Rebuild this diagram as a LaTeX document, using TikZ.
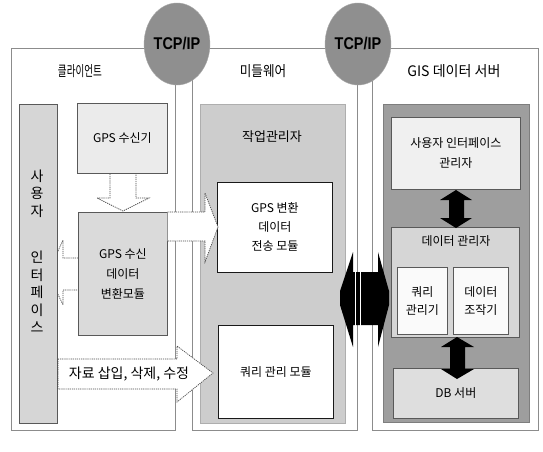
\documentclass[tikz,border=0pt]{standalone}
\usepackage{fontspec}
\setmainfont{Noto Sans CJK KR}
\newfontfamily\tcpfont{Liberation Sans}
\usetikzlibrary{shapes.geometric}
\definecolor{panelc}{HTML}{8C8C8C}
\definecolor{uic}{HTML}{D6D6D6}
\definecolor{rxc}{HTML}{EBEBEB}
\definecolor{cvc}{HTML}{DADADA}
\definecolor{jobc}{HTML}{CDCDCD}
\definecolor{gisdark}{HTML}{9E9E9E}
\definecolor{uimgr}{HTML}{F0F0F0}
\definecolor{dmgr}{HTML}{D6D6D6}
\definecolor{smallc}{HTML}{FAFAFA}
\definecolor{dbc}{HTML}{DEDEDE}
\definecolor{tcpc}{HTML}{8F8F8F}
\begin{document}
\begin{tikzpicture}[x=1pt,y=-1pt,
  panel/.style={draw=panelc,line width=0.6pt,anchor=north west,inner sep=0pt},
  box/.style={draw=black!65,line width=0.7pt,anchor=north west,inner sep=0pt,align=center,
    font=\fontsize{12}{19}\selectfont},
  wbox/.style={box,draw=black!90,line width=0.9pt,fill=white},
  ttl/.style={font=\fontsize{14.5}{16}\selectfont,inner sep=0pt},
  txt/.style={font=\fontsize{12}{19}\selectfont,inner sep=0pt,align=center},
  warrow/.style={fill=white,draw=black!70,line width=0.7pt,dash pattern=on 1.2pt off 0.9pt},
  tcp/.style={ellipse,fill=tcpc,draw=gray!70,line width=0.4pt,inner sep=0pt,
    minimum width=52pt,minimum height=82pt,font=\tcpfont\bfseries\fontsize{17}{17}\selectfont}
]
\useasboundingbox (0,0) rectangle (543,451);
\fill[white] (0,0) rectangle (543,451);

% panels
\node[panel,minimum width=164pt,minimum height=382pt] (pclient) at (11,48) {};
\node[panel,minimum width=165pt,minimum height=382pt] (pmid) at (192,48) {};
\node[panel,minimum width=166pt,minimum height=382pt] (pgis) at (372,48) {};

% titles
\node[ttl] (tclient) at (80,71) {\scalebox{0.66}[1]{클라이언트}};
\node[ttl] (tmid) at (263,71) {\scalebox{0.87}[1]{미들웨어}};
\node[ttl] (tgis) at (454,71) {\scalebox{0.97}[1]{GIS 데이터 서버}};

% ---- client ----
\path[warrow] (78,258) -- (63,258) -- (63,240) -- (48,273) -- (63,305) -- (63,290) -- (78,290);
\node[box,fill=uic,minimum width=38pt,minimum height=319pt] (ui) at (19,104) {};
\node[txt,font=\fontsize{14}{17.5}\selectfont] (uitext) at (37,251) {사\\용\\자\\[29pt]인\\터\\페\\이\\스};
\node[box,fill=rxc,minimum width=90pt,minimum height=70pt] (gpsrx) at (77,103) {GPS 수신기};
\node[box,fill=cvc,minimum width=89pt,minimum height=123pt,font=\fontsize{12}{20}\selectfont] (conv) at (78,212) {GPS 수신\\데이터\\변환모듈};

% ---- middleware ----
\node[box,fill=jobc,draw=jobc!85!black,minimum width=145pt,minimum height=319pt] (job) at (200,104) {};
\node[txt,font=\fontsize{13}{15}\selectfont] (jobtxt) at (272,137) {작업관리자};
\node[wbox,minimum width=115pt,minimum height=90pt] (gpstx) at (217,182) {GPS 변환\\데이터\\전송 모듈};
\node[wbox,minimum width=115pt,minimum height=93pt] (qmod) at (218,325) {쿼리 관리 모듈};

% white arrows
\path[warrow] (110,174) -- (110,198) -- (97,198) -- (123,211) -- (149,198) -- (136,198) -- (136,174);
\path[warrow] (167.5,212) -- (205,212) -- (205,193) -- (218,227) -- (205,262) -- (205,241) -- (167.5,241);
\draw[warrow] (58,359) -- (177,359) -- (177,346) -- (213,373) -- (177,402) -- (177,389) -- (58,389) -- cycle;
\node[txt,font=\fontsize{14}{15}\selectfont] (ins) at (129,374) {자료 삽입, 삭제, 수정};

% ---- GIS server ----
\node[box,fill=gisdark,draw=gisdark!80!black,minimum width=146pt,minimum height=318pt] (gisbox) at (383,104) {};
\node[box,fill=uimgr,minimum width=129pt,minimum height=72pt,font=\fontsize{12}{20}\selectfont] (uimgr) at (391,117) {사용자 인터페이스\\관리자};
\node[box,fill=dmgr,minimum width=128pt,minimum height=110pt] (dmgr) at (391,227) {};
\node[txt] (dmgrtxt) at (456,241) {데이터 관리자};
\node[box,fill=smallc,minimum width=50pt,minimum height=67pt,font=\fontsize{12}{18}\selectfont] (qm) at (397,267) {쿼리\\관리기};
\node[box,fill=smallc,minimum width=55pt,minimum height=67pt,font=\fontsize{12}{18}\selectfont] (dm) at (453,267) {데이터\\조작기};
\node[box,fill=dbc,minimum width=125pt,minimum height=50pt] (db) at (393,368) {DB 서버};

% black double arrows
\fill[black] (449,200) -- (440,200) -- (456,190) -- (472,200) -- (464,200) -- (464,218) -- (472,218) -- (456,228) -- (440,218) -- (449,218) -- cycle;
\fill[black] (450,347) -- (441,347) -- (457,337) -- (474,347) -- (465,347) -- (465,369) -- (474,369) -- (457,379) -- (441,369) -- (450,369) -- cycle;
\fill[black] (353,252) -- (340,291) -- (340,305) -- (353,347) -- (353,325) -- (378,325) -- (378,347) -- (389,305) -- (389,291) -- (378,252) -- (378,272) -- (353,272) -- cycle;
\draw[white,line width=0.9pt] (355,270) -- (355,327) (360,270) -- (360,327);

% TCP/IP
\node[tcp] (tcp1) at (177,44) {\scalebox{0.85}[1]{TCP/IP}};
\node[tcp] (tcp2) at (358,44) {\scalebox{0.85}[1]{TCP/IP}};
\end{tikzpicture}
\end{document}
